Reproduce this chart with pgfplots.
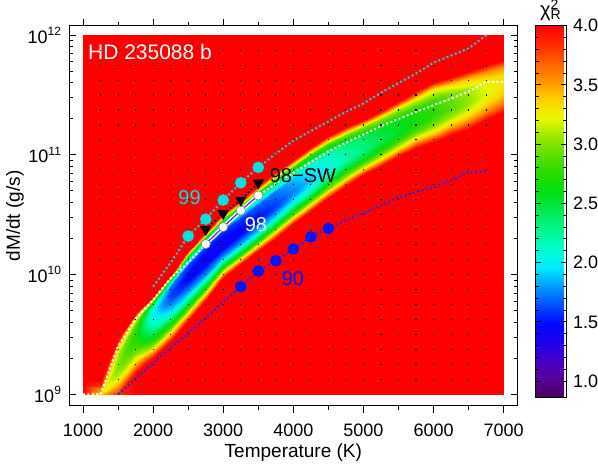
\documentclass[border=0pt]{standalone}
\usepackage{fontspec}
\setmainfont{Liberation Sans}
\usepackage{pgfplots}
\usepackage{pgfplotstable}
\pgfplotsset{compat=1.18}

\definecolor{cyanc}{RGB}{0,225,225}
\definecolor{cyanl}{RGB}{40,200,210}
\definecolor{bluec}{RGB}{0,20,255}
\definecolor{bluel}{RGB}{40,40,230}
\definecolor{purpl}{RGB}{100,40,180}

% evenly spaced from 0.86 to 4.0
\pgfplotsset{colormap={chi}{
 rgb255=(70,0,90) rgb255=(88,0,155) rgb255=(71,0,198) rgb255=(30,0,236)
 rgb255=(0,8,255) rgb255=(0,81,255) rgb255=(0,156,255) rgb255=(0,234,255)
 rgb255=(0,255,206) rgb255=(0,248,142) rgb255=(0,234,86) rgb255=(0,224,22)
 rgb255=(37,220,0) rgb255=(89,222,0) rgb255=(151,231,0) rgb255=(232,249,0)
 rgb255=(255,209,0) rgb255=(255,150,0) rgb255=(255,97,0) rgb255=(255,42,0)
 rgb255=(255,0,0)}}

% chi^2 map: one column per temperature, log10(dM/dt) rising
\pgfplotstableread{
T L C
1000 9.0 4
1000 9.0 4
1000 9.0 4
1000 9.0 4
1000 9.0 4
1000 9.0 4
1000 9.04 4
1000 9.08 4
1000 9.12 4
1000 12 4
1250 9.0 4
1250 9.0 3.6
1250 9.0 3.4
1250 9.0 3.3
1250 9.0 3.3
1250 9.0 3.3
1250 9.04 3.5
1250 9.08 3.85
1250 9.12 4
1250 12 4
1500 9.0 3.85
1500 9.0 3.85
1500 9.075 3.45
1500 9.15 3.12
1500 9.21 3.02
1500 9.25 3.0
1500 9.33 3.08
1500 9.40 3.45
1500 9.46 4
1500 12 4
1750 9.0 4
1750 9.18 4
1750 9.276 3.34
1750 9.372 2.91
1750 9.452 2.73
1750 9.50 2.7
1750 9.572 2.78
1750 9.635 3.25
1750 9.68 4
1750 12 4
2000 9.0 4
2000 9.30 4
2000 9.414 2.98
2000 9.528 2.32
2000 9.623 2.05
2000 9.68 2.0
2000 9.732 2.13
2000 9.778 2.84
2000 9.81 4
2000 12 4
2250 9.0 4
2250 9.45 4
2250 9.57 2.78
2250 9.69 1.98
2250 9.79 1.65
2250 9.85 1.6
2250 9.91 1.75
2250 9.963 2.61
2250 10.0 4
2250 12 4
2500 9.0 4
2500 9.61 4
2500 9.727 2.70
2500 9.844 1.86
2500 9.942 1.51
2500 10.0 1.45
2500 10.08 1.61
2500 10.15 2.52
2500 10.2 4
2500 12 4
2750 9.0 4
2750 9.79 4
2750 9.895 2.67
2750 10.0 1.82
2750 10.088 1.46
2750 10.14 1.4
2750 10.228 1.57
2750 10.305 2.49
2750 10.36 4
2750 12 4
3000 9.0 4
3000 9.97 4
3000 10.06 2.67
3000 10.15 1.82
3000 10.225 1.46
3000 10.27 1.4
3000 10.366 1.57
3000 10.45 2.49
3000 10.51 4
3000 12 4
3250 9.0 4
3250 10.09 4
3250 10.174 2.70
3250 10.258 1.86
3250 10.328 1.51
3250 10.37 1.45
3250 10.472 1.61
3250 10.561 2.52
3250 10.625 4
3250 12 4
3500 9.0 4
3500 10.20 4
3500 10.284 2.73
3500 10.368 1.9
3500 10.438 1.56
3500 10.48 1.5
3500 10.584 1.66
3500 10.675 2.55
3500 10.74 4
3500 12 4
3750 9.0 4
3750 10.31 4
3750 10.394 2.78
3750 10.478 1.98
3750 10.548 1.65
3750 10.59 1.6
3750 10.698 1.75
3750 10.793 2.61
3750 10.86 4
3750 12 4
4000 9.0 4
4000 10.42 4
4000 10.504 2.85
4000 10.588 2.11
4000 10.658 1.80
4000 10.70 1.75
4000 10.804 1.89
4000 10.895 2.70
4000 10.96 4
4000 12 4
4250 9.0 4
4250 10.53 4
4250 10.611 2.93
4250 10.692 2.24
4250 10.76 1.95
4250 10.80 1.9
4250 10.908 2.03
4250 11.003 2.78
4250 11.07 4
4250 12 4
4500 9.0 4
4500 10.64 4
4500 10.718 3.01
4500 10.796 2.36
4500 10.861 2.09
4500 10.90 2.05
4500 11.004 2.17
4500 11.095 2.87
4500 11.16 4
4500 12 4
4750 9.0 4
4750 10.74 4
4750 10.815 3.08
4750 10.89 2.49
4750 10.953 2.24
4750 10.99 2.2
4750 11.086 2.32
4750 11.17 2.96
4750 11.23 4
4750 12 4
5000 9.0 4
5000 10.83 4
5000 10.899 3.13
5000 10.968 2.57
5000 11.026 2.34
5000 11.06 2.3
5000 11.152 2.41
5000 11.233 3.01
5000 11.29 4
5000 12 4
5250 9.0 4
5250 10.91 4
5250 10.976 3.21
5250 11.042 2.70
5250 11.097 2.48
5250 11.13 2.45
5250 11.226 2.55
5250 11.31 3.10
5250 11.37 4
5250 12 4
5500 9.0 4
5500 10.99 4
5500 11.056 3.26
5500 11.122 2.78
5500 11.177 2.58
5500 11.21 2.55
5500 11.306 2.64
5500 11.39 3.16
5500 11.45 4
5500 12 4
5750 9.0 4
5750 11.06 4
5750 11.129 3.31
5750 11.198 2.87
5750 11.256 2.68
5750 11.29 2.65
5750 11.386 2.74
5750 11.47 3.22
5750 11.53 4
5750 12 4
6000 9.0 4
6000 11.11 4
6000 11.185 3.36
6000 11.26 2.95
6000 11.323 2.78
6000 11.36 2.75
6000 11.46 2.83
6000 11.548 3.28
6000 11.61 4
6000 12 4
6250 9.0 4
6250 11.17 4
6250 11.242 3.44
6250 11.314 3.08
6250 11.374 2.92
6250 11.41 2.9
6250 11.506 2.97
6250 11.59 3.36
6250 11.65 4
6250 12 4
6500 9.0 4
6500 11.22 4
6500 11.292 3.52
6500 11.364 3.20
6500 11.424 3.07
6500 11.46 3.05
6500 11.556 3.11
6500 11.64 3.45
6500 11.70 4
6500 12 4
6750 9.0 4
6750 11.29 4
6750 11.362 3.59
6750 11.434 3.33
6750 11.494 3.22
6750 11.53 3.2
6750 11.618 3.25
6750 11.695 3.54
6750 11.75 4
6750 12 4
7000 9.0 4
7000 11.36 4
7000 11.429 3.64
7000 11.498 3.41
7000 11.556 3.32
7000 11.59 3.3
7000 11.67 3.34
7000 11.74 3.59
7000 11.79 4
7000 12 4
}\chimap

\pgfplotstableread{
T L
1000 9.00
1250 9.00
1500 9.40
1750 9.63
2000 9.79
2250 9.97
2500 10.10
2750 10.256
3000 10.398
3250 10.536
3500 10.661
3750 10.76
4000 10.85
4250 10.94
4500 11.03
4750 11.10
5000 11.17
5250 11.24
5500 11.30
5750 11.36
6000 11.415
6250 11.47
6500 11.53
6750 11.61
7000 11.61
}\whiteline

\pgfplotstableread{
T L
2000 9.90
2250 10.10
2500 10.322
2750 10.464
3000 10.623
3250 10.767
3500 10.896
3750 11.01
4000 11.12
4250 11.20
4500 11.28
4750 11.36
5000 11.43
5250 11.52
5500 11.60
5750 11.68
6000 11.77
6250 11.83
6500 11.89
6750 12.00
}\cyanline

\pgfplotstableread{
T L
1500 9.00
1750 9.13
2000 9.26
2250 9.39
2500 9.51
2750 9.64
3000 9.77
3250 9.899
3500 10.030
3750 10.116
4000 10.214
4250 10.316
4500 10.386
4750 10.455
5000 10.515
5250 10.58
5500 10.645
5750 10.69
6000 10.73
6250 10.79
6500 10.855
6750 10.86
}\blueline

\pgfplotstableread{
T L
2500 10.322
2750 10.464
3000 10.623
3250 10.767
3500 10.896
}\cyanpts

\pgfplotstableread{
T L
3250 9.899
3500 10.030
3750 10.116
4000 10.214
4250 10.316
4500 10.386
}\bluepts

\pgfplotstableread{
T L
2750 10.256
3000 10.398
3250 10.536
3500 10.661
}\whitepts

\pgfplotstableread{
T L
2750 10.378
3000 10.512
3250 10.623
3500 10.767
}\swpts

\begin{document}
\begin{tikzpicture}
\begin{axis}[
  view={0}{90},
  axis on top,
  scale only axis,
  width=224.35pt, height=190.15pt,
  at={(0pt,0pt)}, anchor=south west,
  xmin=800, xmax=7200,
  ymode=log, ymin=8e8, ymax=1.2e12,
  zmin=0, zmax=13,
  xtick={1000,2000,...,7000},
  minor x tick num=1,
  ytick={1e9,1e10,1e11,1e12},
  yticklabels={10\textsuperscript{9},10\textsuperscript{10},10\textsuperscript{11},10\textsuperscript{12}},
  xticklabel style={/pgf/number format/assume math mode=true, /pgf/number format/1000 sep={}, yshift=-2pt},
  xtick align=outside, ytick align=inside,
  major tick length=3.6pt, minor tick length=2pt,
  tick style={black, line width=0.5pt},
  axis line style={line width=0.5pt},
  tick label style={font=\fontsize{9}{10}\selectfont},
  label style={font=\fontsize{9.5}{11}\selectfont},
  xlabel={Temperature (K)},
  ylabel={dM/dt (g/s)},
  xlabel style={at={(axis description cs:0.5,-0.1223)}, anchor=center},
  ylabel style={at={(axis description cs:-0.1203,0.5)}, anchor=center},
  colormap name=chi,
  point meta min=0.86, point meta max=4,
  extra x ticks={1250,1500,...,6750},
  extra x tick labels={},
  extra x tick style={major tick length=0pt, grid=major,
    major grid style={black, line width=0.55pt, dash pattern=on 0pt off 13.01pt
      on 0.55pt off 6.9336pt on 0.55pt off 6.9336pt on 0.55pt off 6.9336pt on 0.55pt off 6.9336pt
      on 0.55pt off 6.9336pt on 0.55pt off 6.9336pt on 0.55pt off 6.9336pt on 0.55pt off 6.9336pt
      on 0.55pt off 6.9336pt on 0.55pt off 6.9336pt on 0.55pt off 6.9336pt on 0.55pt off 6.9336pt
      on 0.55pt off 6.9336pt on 0.55pt off 6.9336pt on 0.55pt off 6.9336pt on 0.55pt off 6.9336pt
      on 0.55pt off 6.9336pt on 0.55pt off 6.9336pt on 0.55pt off 6.9336pt on 0.55pt off 6.9336pt
      on 0.55pt off 6.9336pt on 0.55pt off 6.9336pt on 0.55pt off 400pt}},
  colorbar,
  colorbar style={
    at={(parent axis.north east)}, anchor=north west, xshift=0.5pt,
    scale only axis, width=15.15pt, height=186pt,
    ytick={1,1.5,...,4}, minor y tick num=4,
    yticklabel pos=right,
    tick align=inside, major tick length=2.4pt, minor tick length=1.4pt,
    tick style={black, line width=0.5pt},
    axis line style={line width=0.5pt},
    yticklabel style={font=\fontsize{9}{10}\selectfont,
      /pgf/number format/fixed, /pgf/number format/fixed zerofill,
      /pgf/number format/precision=1, /pgf/number format/assume math mode=true},
    title={χ\rlap{\textsuperscript{2}}\textsubscript{R}},
    title style={font=\fontsize{10}{11}\selectfont, yshift=-7pt},
  },
]
\addplot3[surf, shader=interp, mesh/cols=10, mesh/rows=25, point meta=\thisrow{C}]
  table[x=T, y expr={10^\thisrow{L}}, z=C] {\chimap};

\addplot3[cyanl, line width=1pt, dash pattern=on 1pt off 1.2pt]
  table[x=T, y expr={10^\thisrow{L}}, z=L] {\cyanline};
\addplot3[white, line width=1pt, dash pattern=on 1pt off 1.2pt]
  table[x=T, y expr={10^\thisrow{L}}, z=L] {\whiteline};
\addplot3[bluel, line width=1pt, dash pattern=on 1pt off 1.2pt]
  table[x=T, y expr={10^\thisrow{L}}, z=L] {\blueline};
\addplot3[black, line width=0.8pt, dash pattern=on 0.8pt off 1.2pt]
  table[x=T, y expr={10^\thisrow{L}}, z=L] {\swpts};

\addplot3[white, line width=2pt]
  table[x=T, y expr={10^\thisrow{L}}, z=L] {\whitepts};
\addplot3[purpl, line width=0.6pt]
  table[x=T, y expr={10^\thisrow{L}}, z=L] {\whitepts};

\addplot3[only marks, mark=*, mark size=2.3pt, mark options={fill=white, draw=gray, line width=0.3pt}]
  table[x=T, y expr={10^\thisrow{L}}, z=L] {\whitepts};
\addplot3[only marks, mark=triangle*, mark size=2.9pt, mark options={black, rotate=180}]
  table[x=T, y expr={10^\thisrow{L}}, z=L] {\swpts};
\addplot3[only marks, mark=*, mark size=2.7pt, mark options={cyanc, draw=cyanc}]
  table[x=T, y expr={10^\thisrow{L}}, z=L] {\cyanpts};
\addplot3[only marks, mark=*, mark size=2.7pt, mark options={bluec, draw=bluec}]
  table[x=T, y expr={10^\thisrow{L}}, z=L] {\bluepts};

\node[anchor=west, inner sep=0pt, white, font=\fontsize{10.5}{12}\selectfont] at (axis cs:1067,7.244e11,12) {HD 235088 b};
\node[cyanc, font=\fontsize{10}{12}\selectfont] at (axis cs:2520,4.365e10,12) {99};
\node[white, font=\fontsize{10}{12}\selectfont] at (axis cs:3467,2.594e10,12) {98};
\node[anchor=west, inner sep=0pt, black, font=\fontsize{10}{12}\selectfont] at (axis cs:3659,6.761e10,12) {98−SW};
\node[bluec, font=\fontsize{10}{12}\selectfont] at (axis cs:3994,9.311e9,12) {90};
\end{axis}
\pgfresetboundingbox
\path[use as bounding box] (-34.5pt,-29pt) rectangle (264.5pt,203pt);
\end{tikzpicture}
\end{document}
